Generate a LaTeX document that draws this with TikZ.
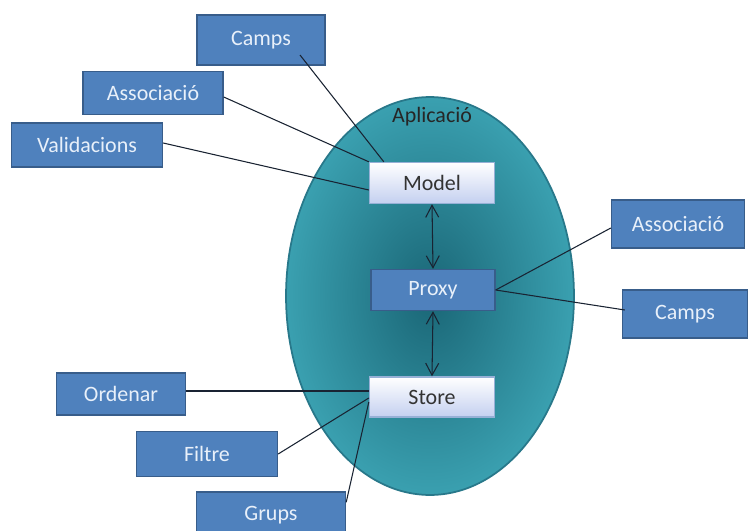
\documentclass[tikz,border=0pt]{standalone}
\usepackage{fontspec}
\setmainfont{Carlito}
\usetikzlibrary{arrows.meta}
\definecolor{mblue}{RGB}{79, 129, 189}
\definecolor{mblueline}{RGB}{56, 93, 138}
\definecolor{mtealin}{RGB}{26, 102, 118}
\definecolor{mtealout}{RGB}{58, 160, 176}
\definecolor{mtealline}{RGB}{40, 120, 138}
\definecolor{mlav}{RGB}{196, 208, 240}
\definecolor{mlavline}{RGB}{150, 176, 214}
\definecolor{mlink}{RGB}{25, 35, 50}
\definecolor{mtext}{RGB}{232, 240, 250}
\tikzset{box/.style = {draw = mblueline, fill = mblue, text = mtext, line width = 0.8pt, inner sep = 0, font = \fontsize{12.5}{15}\selectfont}}
\tikzset{core/.style = {draw = mlavline, top color = white, bottom color = mlav, text = black!80, line width = 0.8pt, inner sep = 0, font = \fontsize{12.5}{15}\selectfont}}
\tikzset{link/.style = {draw = mlink, line width = 0.6pt}}

\begin{document}
\begin{tikzpicture}[x = 0.02cm, y = -0.02cm]
    \clip (0, 0) rectangle (748, 531);
    \fill [white] (0, 0) rectangle (748, 531);
    \draw [draw = mtealline, line width = 1pt, inner color = mtealin, outer color = mtealout] (430, 296) ellipse [x radius = 2.88cm, y radius = 3.98cm];
    \node [text = black!85, font = \fontsize{12.5}{15}\selectfont] (app) at (432, 117) {Aplicació};
    \node [core, minimum width = 2.5cm, minimum height = 0.82cm] (model) at (432, 183) {Model};
    \node [box, minimum width = 2.48cm, minimum height = 0.82cm] (proxy) at (433, 290) {Proxy};
    \node [core, minimum width = 2.5cm, minimum height = 0.8cm] (store) at (432, 397) {Store};
    \node [box, minimum width = 2.56cm, minimum height = 1.0cm] (campsM) at (261, 40) {Camps};
    \node [box, minimum width = 2.8cm, minimum height = 0.86cm] (assocM) at (153, 93) {Associació};
    \node [box, minimum width = 3.02cm, minimum height = 0.88cm] (valid) at (87, 145) {Validacions};
    \node [box, minimum width = 2.66cm, minimum height = 0.96cm] (assocP) at (678, 224) {Associació};
    \node [box, minimum width = 2.5cm, minimum height = 0.96cm] (campsP) at (685, 314) {Camps};
    \node [box, minimum width = 2.58cm, minimum height = 0.84cm] (sort) at (121, 394) {Ordenar};
    \node [box, minimum width = 2.82cm, minimum height = 0.9cm] (filter) at (207, 454) {Filtre};
    \node [box, minimum width = 2.98cm, minimum height = 0.92cm] (groups) at (271, 515) {Grups};
    \draw [link] ([shift = {(39, 15)}]campsM.center) -- ([shift = {(15, 0)}]model.north west);
    \draw [link] ([shift = {(0, 4)}]assocM.east) -- (model.north west);
    \draw [link] ([shift = {(0, -2)}]valid.east) -- ([shift = {(0, 7)}]model.west);
    \draw [link] (proxy.east) -- ([shift = {(0, 4)}]assocP.west);
    \draw [link] (proxy.east) -- ([shift = {(3, -4)}]campsP.west);
    \draw [link] ([shift = {(0, -3)}]sort.east) -- ([shift = {(0, -3)}]sort.east -| store.west);
    \draw [link] (filter.east) -- ([shift = {(0, 1)}]store.west);
    \draw [link] ([shift = {(0, 11)}]groups.north east) -- ([shift = {(0, 5)}]store.west);
    \draw [link, {Straight Barb[length = 2.4mm, width = 2.6mm]}-{Straight Barb[length = 2.4mm, width = 2.6mm]}] (model.south) -- (proxy.north);
    \draw [link, {Straight Barb[length = 2.4mm, width = 2.6mm]}-{Straight Barb[length = 2.4mm, width = 2.6mm]}] (proxy.south) -- (store.north);
\end{tikzpicture}
\end{document}
